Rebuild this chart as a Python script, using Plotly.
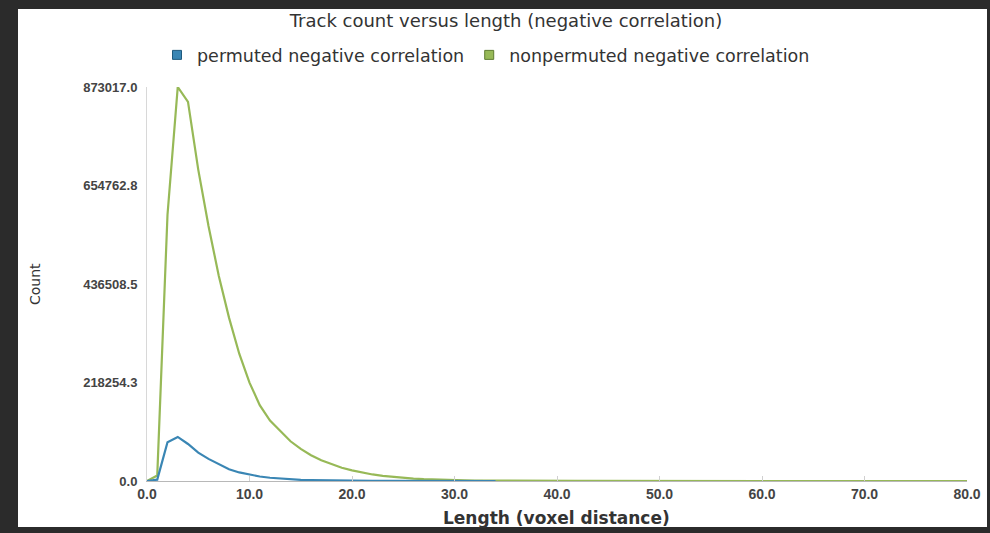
import plotly.graph_objects as go

# ---- data ----
lengths = list(range(0, 81))

permuted = [0, 3000, 86000, 97700, 82000, 63000, 49000, 37000, 26000, 19000,
            14000, 10000, 7200, 5200, 3700, 2600, 1900, 1400, 1000, 750,
            550, 420, 320, 240, 180, 140, 100, 80, 60, 45,
            35, 28, 22, 18, 14]

nonpermuted = [0, 12000, 590000, 873017, 840000, 690000, 565000, 455000, 362000, 282000,
               218000, 168000, 134000, 110000, 88000, 71000, 57000, 46000, 37000, 29500,
               23500, 18500, 14500, 11500, 9000, 7000, 5300, 4000, 3000, 2300,
               1800, 1400, 1100, 850, 650, 500, 390, 300, 230, 180,
               140, 110, 85, 65, 50, 40, 32, 25, 20, 16,
               13, 10, 8, 6, 5, 4, 3, 3, 2, 2,
               2, 1, 1, 1, 1, 1, 1, 1, 0, 0,
               0, 0, 0, 0, 0, 0, 0, 0, 0, 0, 0]

series_names = ["permuted negative correlation", "nonpermuted negative correlation"]

x_tick_vals = [0, 10, 20, 30, 40, 50, 60, 70, 80]
x_tick_text = ["0.0", "10.0", "20.0", "30.0", "40.0", "50.0", "60.0", "70.0", "80.0"]
y_tick_vals = [0, 218254.25, 436508.5, 654762.75, 873017]
y_tick_text = ["0.0", "218254.3", "436508.5", "654762.8", "873017.0"]

BLUE = "#3a86b4"
GREEN = "#97b957"

fig = go.Figure()

fig.add_trace(go.Scatter(x=lengths[:len(nonpermuted)], y=nonpermuted, mode="lines",
                         line=dict(color=GREEN, width=2.2), showlegend=False,
                         cliponaxis=False, name=series_names[1]))
fig.add_trace(go.Scatter(x=lengths[:len(permuted)], y=permuted, mode="lines",
                         line=dict(color=BLUE, width=2.2), showlegend=False,
                         cliponaxis=False, name=series_names[0]))

# legend entries with square swatches
fig.add_trace(go.Scatter(x=[None], y=[None], mode="markers", name=series_names[0],
                         marker=dict(symbol="square", size=9, color=BLUE,
                                     line=dict(color="#1f5a7e", width=1))))
fig.add_trace(go.Scatter(x=[None], y=[None], mode="markers", name=series_names[1],
                         marker=dict(symbol="square", size=9, color=GREEN,
                                     line=dict(color="#5f7d30", width=1))))

L, R, T, B = 147, 23, 87, 52
W, H = 990, 533
pw, ph = W - L - R, H - T - B

def px_x(px):
    return (px - L) / pw

def px_y(py):
    return (H - B - py) / ph

# white card inside dark frame
fig.add_shape(type="rect", xref="paper", yref="paper", layer="below",
              x0=px_x(18), x1=px_x(987), y0=px_y(527), y1=px_y(9),
              fillcolor="white", line=dict(width=0))

# axis titles as annotations
fig.add_annotation(text="<b>Length (voxel distance)</b>", xref="paper", yref="paper",
                   x=px_x(556), y=px_y(518), xanchor="center", yanchor="middle", showarrow=False,
                   font=dict(family="DejaVu Sans", size=17, color="#333333"))
fig.add_annotation(text="Count", xref="paper", yref="paper", textangle=-90,
                   x=px_x(35), y=px_y(284), xanchor="center", yanchor="middle", showarrow=False,
                   font=dict(family="DejaVu Sans", size=14, color="#333333"))

fig.update_layout(
    width=W, height=H,
    margin=dict(l=L, r=R, t=T, b=B, autoexpand=False),
    paper_bgcolor="#2b2b2b",
    plot_bgcolor="white",
    title=dict(text="Track count versus length (negative correlation)",
               x=506 / W, xref="container", y=1 - 21 / H, yref="container",
               xanchor="center", yanchor="middle",
               font=dict(family="DejaVu Sans", size=18, color="#333333")),
    legend=dict(orientation="h", x=px_x(486), xref="paper", xanchor="center",
                y=px_y(55), yanchor="middle",
                font=dict(family="DejaVu Sans", size=17.5, color="#333333"),
                itemwidth=30, bgcolor="rgba(0,0,0,0)"),
    xaxis=dict(range=[0, 80], tickvals=x_tick_vals, ticktext=x_tick_text,
               showgrid=False, zeroline=False, showline=True, linecolor="#b8b8b8",
               linewidth=1, ticks="inside", ticklen=5, tickcolor="#d0d0d0",
               automargin=False,
               tickfont=dict(family="Liberation Sans", size=14, color="#444444", weight="bold")),
    yaxis=dict(range=[0, 873017], tickvals=y_tick_vals, ticktext=y_tick_text,
               showgrid=False, zeroline=False, showline=True, linecolor="#d8d8d8",
               linewidth=1, ticks="", automargin=False, ticklabelstandoff=6,
               tickfont=dict(family="Liberation Sans", size=13, color="#444444", weight="bold")),
)

fig.write_html("out.html", config={"displayModeBar": False},
               post_script="document.body.style.margin='0';document.body.style.background='#2b2b2b';")
